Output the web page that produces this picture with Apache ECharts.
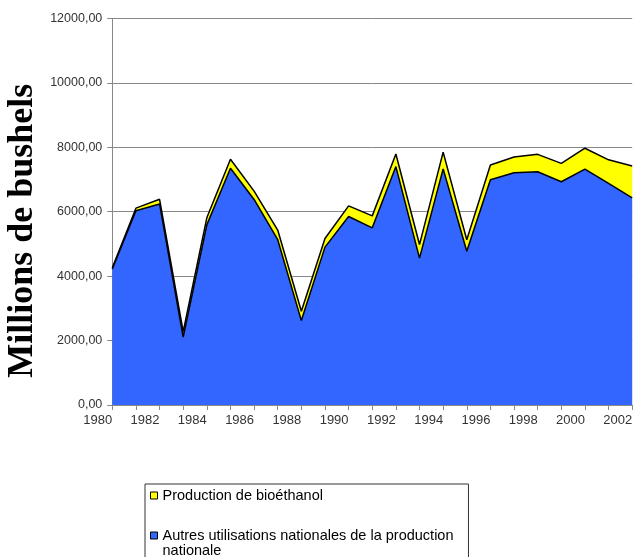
<!DOCTYPE html>
<html>
<head>
<meta charset="utf-8">
<script src="https://cdn.jsdelivr.net/npm/echarts@6/dist/echarts.min.js"></script>
<style>
  html, body { margin: 0; padding: 0; background: #fff; }
  #chart { width: 637px; height: 557px; }
</style>
</head>
<body>
<div id="chart"></div>
<script>
// Corn usage, millions of bushels, 1980-2002
const years = ['1980','1981','1982','1983','1984','1985','1986','1987','1988','1989','1990','1991',
               '1992','1993','1994','1995','1996','1997','1998','1999','2000','2001','2002'];
// Other domestic uses of national production
const autresUtilisations = [4220, 6030, 6240, 2110, 5590, 7350, 6380, 5130, 2620, 4900, 5850, 5500,
                            7400, 4560, 7330, 4770, 6990, 7210, 7240, 6930, 7320, 6880, 6430];
// Corn used for bioethanol production (stacked on top)
const bioethanol = [40, 80, 145, 170, 220, 280, 260, 300, 290, 270, 330, 370,
                    390, 420, 520, 360, 460, 490, 540, 570, 650, 730, 990];

const nameBio = 'Production de bioéthanol';
const nameAutres = 'Autres utilisations nationales de la production nationale';

const chart = echarts.init(document.getElementById('chart'), null, { renderer: 'canvas' });

const frNumber = v => v.toFixed(2).replace('.', ',');

chart.setOption({
  backgroundColor: '#ffffff',
  animation: false,
  grid: {
    left: 112.3, right: 4.8, top: 18.4, bottom: 152,
    containLabel: false,
    outerBoundsMode: 'none'
  },
  legend: {
    orient: 'vertical',
    left: 145,
    top: 484,
    height: 200,
    data: [nameBio, nameAutres],
    padding: [4, 15, 30, 5],
    itemGap: 10,
    itemWidth: 7,
    itemHeight: 7,
    icon: 'rect',
    borderColor: '#333',
    borderWidth: 1,
    borderRadius: 0,
    itemStyle: { borderColor: '#000', borderWidth: 1 },
    // the long label wraps after "production"; a leading empty line keeps
    // the swatch level with the first line of text
    formatter: function (name) {
      return name === nameAutres
        ? '\nAutres utilisations nationales de la production\nnationale'
        : name;
    },
    textStyle: {
      fontFamily: 'Liberation Sans, Arial, sans-serif',
      fontSize: 14.5,
      lineHeight: 15,
      color: '#000'
    }
  },
  xAxis: {
    type: 'category',
    data: years,
    boundaryGap: false,
    axisLine: { lineStyle: { color: '#888', width: 1 } },
    axisTick: { show: true, inside: false, length: 5, interval: 0, lineStyle: { color: '#888' } },
    axisLabel: {
      interval: 1,
      margin: 9,
      padding: [0, 29, 0, 0],
      fontFamily: 'Liberation Sans, Arial, sans-serif',
      fontSize: 13,
      color: '#333'
    },
    splitLine: { show: false }
  },
  yAxis: {
    type: 'value',
    min: 0,
    max: 12000,
    interval: 2000,
    name: 'Millions de bushels',
    nameLocation: 'middle',
    nameRotate: 90,
    nameGap: 72,
    nameMoveOverlap: false,
    nameTextStyle: {
      fontFamily: 'Liberation Serif, Times New Roman, serif',
      fontWeight: 'bold',
      fontSize: 36,
      color: '#000',
      padding: [0, 38, 0, 0]
    },
    axisLine: { show: true, lineStyle: { color: '#888', width: 1 } },
    axisTick: { show: true, inside: false, length: 5, lineStyle: { color: '#888' } },
    axisLabel: {
      formatter: frNumber,
      margin: 10,
      fontFamily: 'Liberation Sans, Arial, sans-serif',
      fontSize: 12.5,
      color: '#333'
    },
    splitLine: { show: true, lineStyle: { color: '#888', width: 1 } }
  },
  series: [
    {
      name: nameAutres,
      type: 'line',
      stack: 'total',
      data: autresUtilisations,
      symbol: 'none',
      z: 3,
      lineStyle: { color: '#000', width: 1.5 },
      itemStyle: { color: '#3366FF' },
      areaStyle: { color: '#3366FF', opacity: 1 }
    },
    {
      name: nameBio,
      type: 'line',
      stack: 'total',
      data: bioethanol,
      symbol: 'none',
      z: 2,
      lineStyle: { color: '#000', width: 1.5 },
      itemStyle: { color: '#FFFF00' },
      areaStyle: { color: '#FFFF00', opacity: 1 }
    }
  ]
});
</script>
</body>
</html>
